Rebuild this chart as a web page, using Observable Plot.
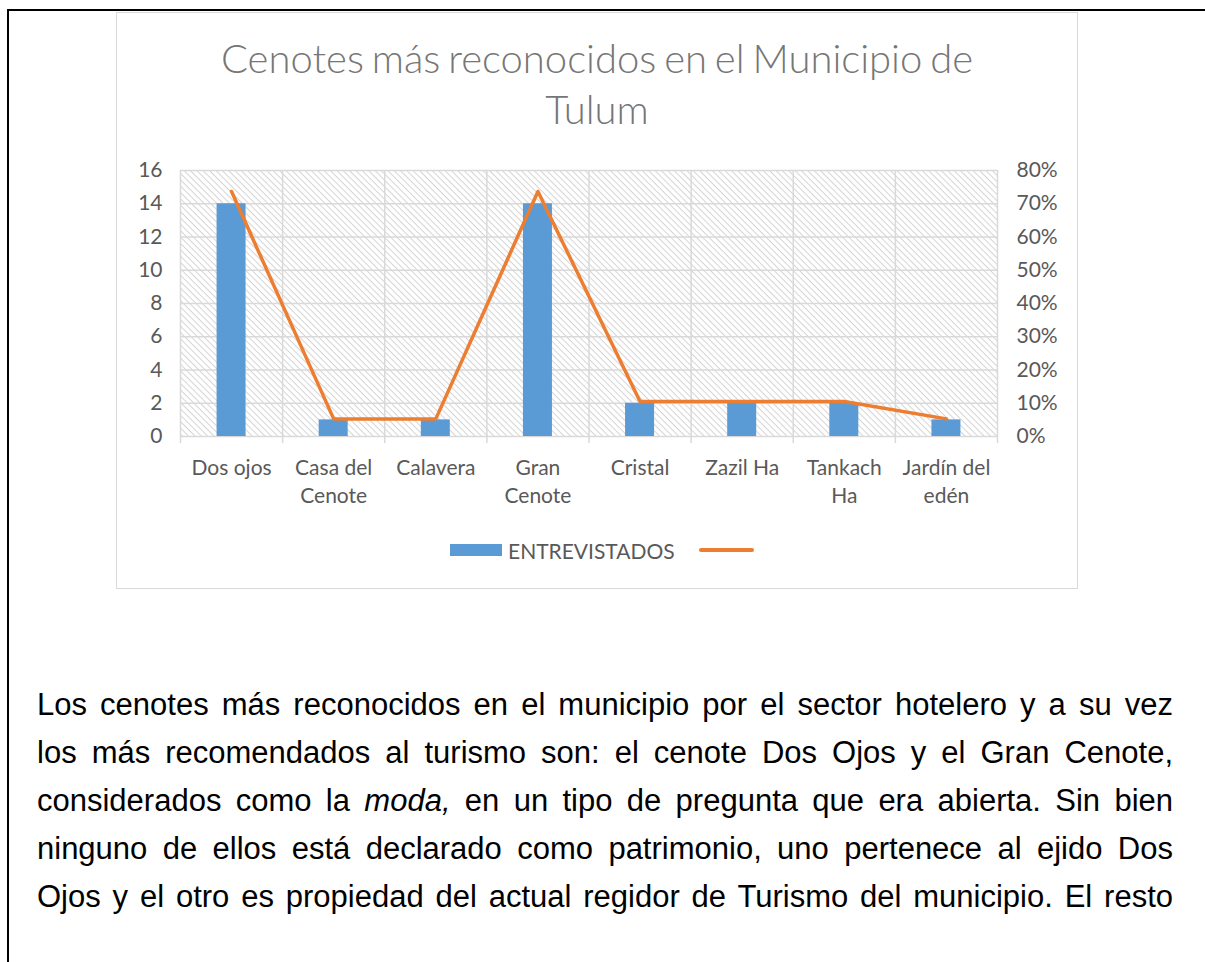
<!DOCTYPE html>
<html><head><meta charset="utf-8">
<script src="https://cdn.jsdelivr.net/npm/d3@7"></script>
<script src="https://cdn.jsdelivr.net/npm/@observablehq/plot@0.6"></script>
<style>
body{margin:0;background:#fff;width:1205px;height:962px;overflow:hidden;position:relative;font-family:Lato,sans-serif}
#page{position:absolute;left:7px;top:9px;width:1220px;height:980px;border-top:2px solid #000;border-left:2px solid #000}
#box{position:absolute;left:116px;top:12px;width:962px;height:577px;border:1.5px solid #d9d9d9;box-sizing:border-box}
#title{position:absolute;left:116px;width:962px;top:33px;text-align:center;font-size:40px;line-height:51px;color:#767676;word-spacing:-3px;font-weight:300}
#chart{position:absolute;left:116px;top:140px}
#legend{position:absolute;left:450px;top:536px;height:28px;display:flex;align-items:center;font-size:21px;color:#595959}
#legend .sw{width:52px;height:12px;background:#5B9BD5;margin-right:6px}
#legend .ln{width:55px;height:4px;border-radius:2px;background:#ED7D31;margin-left:24px}
#para{position:absolute;left:37px;width:1136px;top:681px;font-family:"Liberation Sans",Arial,sans-serif;font-size:31px;line-height:48px;color:#000}
#para div{text-align:justify;text-align-last:justify}
</style></head>
<body>
<div id="page"></div>
<div id="box"></div>
<div id="title">Cenotes más reconocidos en el Municipio de<br>Tulum</div>
<div id="chart"></div>
<div id="legend"><span class="sw"></span><span>ENTREVISTADOS</span><span class="ln"></span></div>
<div id="para">
<div>Los cenotes más reconocidos en el municipio por el sector hotelero y a su vez</div>
<div>los más recomendados al turismo son: el cenote Dos Ojos y el Gran Cenote,</div>
<div>considerados como la <i>moda,</i> en un tipo de pregunta que era abierta. Sin bien</div>
<div>ninguno de ellos está declarado como patrimonio, uno pertenece al ejido Dos</div>
<div>Ojos y el otro es propiedad del actual regidor de Turismo del municipio. El resto</div>
</div>
<script>
// ---- data ----
const categories = ["Dos ojos","Casa del\nCenote","Calavera","Gran\nCenote","Cristal","Zazil Ha","Tankach\nHa","Jardín del\nedén"];
const entrevistados = [14, 1, 1, 14, 2, 2, 2, 1];
const porcentaje = [0.737, 0.053, 0.053, 0.737, 0.105, 0.105, 0.105, 0.053];
const leftTicks = [0, 2, 4, 6, 8, 10, 12, 14, 16];
const rightTickLabels = ["0%","10%","20%","30%","40%","50%","60%","70%","80%"];

const data = categories.map((c, i) => ({i, c, value: entrevistados[i], pct: porcentaje[i]}));
const boundaries = d3.range(categories.length + 1);
const centers = categories.map((c, i) => i + 0.5);
const half = 0.142;
const grid = "#d9d9d9";
const txt = "#595959";

const svg = Plot.plot({
  width: 961, height: 380,
  marginLeft: 64, marginRight: 80, marginTop: 30, marginBottom: 84,
  style: {fontFamily: "Lato, sans-serif", fontSize: "21px", color: txt, background: "transparent"},
  x: {type: "linear", domain: [0, categories.length], axis: null},
  y: {domain: [0, 16], axis: null},
  marks: [
    Plot.frame({fill: "url(#hatch)", stroke: null}),
    Plot.gridY(leftTicks, {stroke: grid, strokeOpacity: 1, strokeWidth: 1.5}),
    Plot.gridX(boundaries, {stroke: grid, strokeOpacity: 1, strokeWidth: 1.5}),
    Plot.axisX({ticks: boundaries, tickSize: 7, tickFormat: () => "", label: null, stroke: grid, strokeWidth: 1.5, strokeOpacity: 1}),
    Plot.rectY(data, {x1: d => d.i + 0.5 - half, x2: d => d.i + 0.5 + half, y: "value", fill: "#5B9BD5"}),
    Plot.lineY(data, {x: d => d.i + 0.5, y: d => d.pct * 20, stroke: "#ED7D31", strokeWidth: 3.5, strokeLinecap: "round", strokeLinejoin: "round"}),
    Plot.axisX({ticks: centers, tickSize: 0, tickPadding: 18, label: null, tickFormat: v => categories[Math.round(v - 0.5)], lineHeight: 1.35, fill: txt}),
    Plot.axisY({anchor: "left", ticks: leftTicks, tickSize: 0, tickPadding: 18, label: null, fill: txt}),
    Plot.axisY({anchor: "right", ticks: leftTicks, tickSize: 0, tickPadding: 19, label: null, tickFormat: v => rightTickLabels[v / 2], fill: txt})
  ]
});
const ns = "http://www.w3.org/2000/svg";
const defs = document.createElementNS(ns, "defs");
const pat = document.createElementNS(ns, "pattern");
pat.setAttribute("id", "hatch");
pat.setAttribute("patternUnits", "userSpaceOnUse");
pat.setAttribute("width", "4.5");
pat.setAttribute("height", "4.5");
pat.setAttribute("patternTransform", "rotate(45)");
const bg = document.createElementNS(ns, "rect");
bg.setAttribute("width", "4.5"); bg.setAttribute("height", "4.5"); bg.setAttribute("fill", "#ffffff");
const hl = document.createElementNS(ns, "line");
hl.setAttribute("x1", "0"); hl.setAttribute("y1", "0.5"); hl.setAttribute("x2", "4.5"); hl.setAttribute("y2", "0.5");
hl.setAttribute("stroke", "#d4d4d4"); hl.setAttribute("stroke-width", "1");
pat.appendChild(bg); pat.appendChild(hl);
defs.appendChild(pat);
svg.insertBefore(defs, svg.firstChild);
document.getElementById("chart").appendChild(svg);
</script>
</body></html>
